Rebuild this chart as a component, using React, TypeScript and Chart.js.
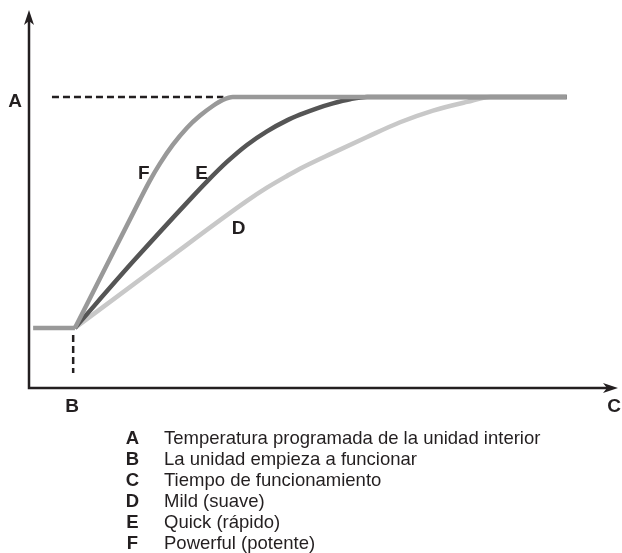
import React, { useEffect, useRef } from "react";
import { Chart, registerables } from "chart.js";

Chart.register(...registerables);

// ---- data (time units 0..100, temperature units 0..100) ----
const flatStartTimes = [0.7, 7.8];
const flatStartTemps = [15.9, 15.9];

// F  Powerful (continues into the flat line at the set temperature)
const powerfulTimes = [7.8, 18.8, 20.5, 22.2, 24.4, 26.8, 29.0, 31.2, 32.9, 34.6, 91.3];
const powerfulTemps = [15.9, 49.7, 54.8, 59.3, 64.3, 68.8, 72.0, 74.6, 76.2, 77.0, 77.0];

// E  Quick
const quickTimes = [7.8, 17.7, 27.7, 30.2, 33.6, 37.0, 40.4, 43.8, 46.0, 48.9, 51.6, 54.5, 57.4, 91.3];
const quickTemps = [15.9, 33.5, 50.5, 54.6, 59.8, 64.3, 67.9, 70.8, 72.3, 74.0, 75.3, 76.4, 77.0, 77.0];

// D  Mild
const mildTimes = [7.8, 22.4, 37.0, 40.4, 43.8, 46.0, 51.6, 57.4, 63.0, 68.6, 74.4, 78.3, 91.3];
const mildTemps = [15.9, 32.8, 49.5, 53.0, 56.1, 58.0, 62.2, 66.4, 70.3, 73.4, 75.7, 77.0, 77.0];

const setpointDashTimes = [3.9, 33.0];
const setpointDashTemps = [77.0, 77.0];
const startDashTimes = [7.5, 7.5];
const startDashTemps = [14.0, 4.0];

const curveLabels = ["F", "E", "D"];
const curveLabelTimes = [19.5, 29.3, 35.6];
const curveLabelTemps = [57.1, 57.1, 42.6];

const legendKeys = ["A", "B", "C", "D", "E", "F"];
const legendTexts = [
  "Temperatura programada de la unidad interior",
  "La unidad empieza a funcionar",
  "Tiempo de funcionamiento",
  "Mild (suave)",
  "Quick (rápido)",
  "Powerful (potente)",
];

const INK = "#231f20";
const FONT = "'Liberation Sans', Arial, Helvetica, sans-serif";

const pts = (xs: number[], ys: number[]) => xs.map((x, i) => ({ x, y: ys[i] }));

function arrowHead(ctx: CanvasRenderingContext2D, tx: number, ty: number, dir: "up" | "right") {
  ctx.beginPath();
  if (dir === "up") {
    ctx.moveTo(tx, ty);
    ctx.lineTo(tx + 5, ty + 15);
    ctx.lineTo(tx, ty + 11);
    ctx.lineTo(tx - 5, ty + 15);
  } else {
    ctx.moveTo(tx, ty);
    ctx.lineTo(tx - 15, ty - 5);
    ctx.lineTo(tx - 11, ty);
    ctx.lineTo(tx - 15, ty + 5);
  }
  ctx.closePath();
  ctx.fill();
}

const decorPlugin = {
  id: "decor",
  afterDatasetsDraw(chart: any) {
    const { ctx } = chart;
    const xs = chart.scales.x;
    const ys = chart.scales.y;
    const x0 = xs.getPixelForValue(0);
    const xMax = xs.getPixelForValue(100);
    const y0 = ys.getPixelForValue(0);
    const yMax = ys.getPixelForValue(100);
    ctx.save();
    ctx.strokeStyle = INK;
    ctx.fillStyle = INK;
    ctx.lineWidth = 2.5;
    ctx.lineJoin = "miter";
    ctx.lineCap = "butt";
    ctx.beginPath();
    ctx.moveTo(x0, yMax + 10);
    ctx.lineTo(x0, y0);
    ctx.lineTo(xMax - 10, y0);
    ctx.stroke();
    arrowHead(ctx, x0, yMax, "up");
    arrowHead(ctx, xMax, y0, "right");

    ctx.font = `bold 19px ${FONT}`;
    ctx.textAlign = "center";
    ctx.textBaseline = "alphabetic";
    // axis labels
    ctx.fillText("A", x0 - 14, ys.getPixelForValue(setpointDashTemps[0]) + 10);
    ctx.fillText("B", xs.getPixelForValue(startDashTimes[0]) - 1, y0 + 24);
    ctx.fillText("C", xMax - 4, y0 + 24);
    // curve labels
    curveLabels.forEach((l, i) => {
      ctx.fillText(l, xs.getPixelForValue(curveLabelTimes[i]), ys.getPixelForValue(curveLabelTemps[i]) + 7);
    });

    // legend
    legendKeys.forEach((k, i) => {
      const by = 444 + i * 21;
      ctx.font = `bold 18.5px ${FONT}`;
      ctx.textAlign = "center";
      ctx.fillText(k, 132.5, by);
      ctx.font = `18.5px ${FONT}`;
      ctx.textAlign = "left";
      ctx.fillText(legendTexts[i], 164, by);
    });
    ctx.restore();
  },
};

export default function App() {
  const ref = useRef<HTMLCanvasElement | null>(null);
  useEffect(() => {
    if (!ref.current) return;
    const line = (data: any[], color: string, width: number, extra: any = {}) => ({
      data,
      borderColor: color,
      backgroundColor: color,
      borderWidth: width,
      pointRadius: 0,
      fill: false,
      borderCapStyle: "butt",
      borderJoinStyle: "round",
      cubicInterpolationMode: "monotone",
      ...extra,
    });
    const chart = new Chart(ref.current, {
      type: "line",
      data: {
        datasets: [
          line(pts(powerfulTimes, powerfulTemps), "#999999", 4.5),
          line(pts(flatStartTimes, flatStartTemps), "#999999", 4.5),
          line(pts(quickTimes, quickTemps), "#555555", 4.5),
          line(pts(mildTimes, mildTemps), "#c8c8c8", 4.5),
          line(pts(setpointDashTimes, setpointDashTemps), INK, 2.5, { borderDash: [7, 4], cubicInterpolationMode: "default", tension: 0 }),
          line(pts(startDashTimes, startDashTemps), INK, 2.5, { borderDash: [7, 4], cubicInterpolationMode: "default", tension: 0 }),
        ] as any,
      },
      options: {
        responsive: false,
        animation: false,
        devicePixelRatio: 1,
        layout: { padding: { left: 29, top: 10, right: 4, bottom: 165 } },
        plugins: { legend: { display: false }, tooltip: { enabled: false } },
        scales: {
          x: { type: "linear", min: 0, max: 100, display: false },
          y: { type: "linear", min: 0, max: 100, display: false },
        },
      } as any,
      plugins: [decorPlugin],
    });
    return () => chart.destroy();
  }, []);
  return (
    <div style={{ position: "absolute", left: 0, top: 0, width: 622, height: 553, background: "#fff" }}>
      <canvas ref={ref} width={622} height={553} style={{ display: "block" }} />
    </div>
  );
}
